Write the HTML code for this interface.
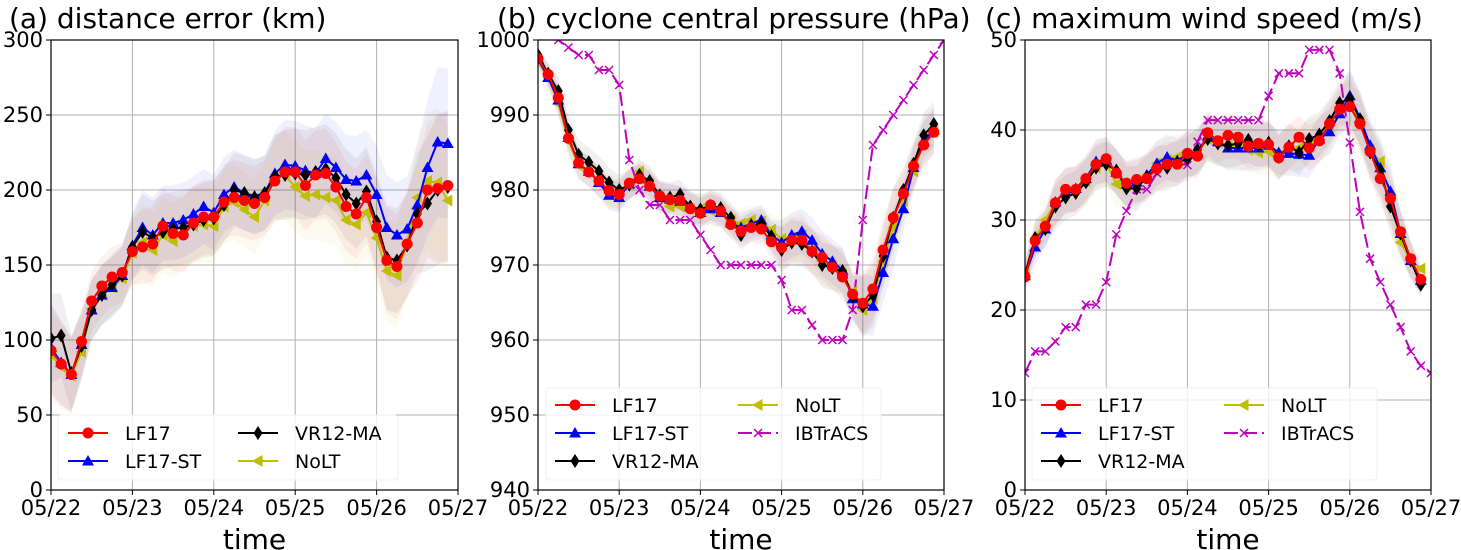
<!DOCTYPE html>
<html><head><meta charset="utf-8"><style>
html,body{margin:0;padding:0;background:#fff;}
svg{display:block;font-family:"DejaVu Sans","Liberation Sans",sans-serif;}
</style></head><body>
<svg id="fig" width="1461" height="550" viewBox="0 0 1461 550" xmlns="http://www.w3.org/2000/svg"></svg>
<script>
const dayLabels = ["05/22","05/23","05/24","05/25","05/26","05/27"];
// panel (a) distance error
const aLF17   = [93,84,77,99,126,136,142,145,159,162,164,176,171,170,178,182,182,192,195,193,191,195,206,212,212,203,210,211,202,189,184,195,175,153,149,164,178,200,201,203];
const aLF17ST = [95,85,77,97,120,130,135,143,163,175,170,178,178,180,184,189,185,197,202,198,196,198,211,217,216,213,211,221,215,207,206,210,197,175,170,174,190,215,232,231];
const aVR12   = [101,103,78,96,120,130,137,143,162,172,168,172,174,175,177,180,181,190,200,198,195,198,209,210,211,210,212,214,208,197,191,199,179,155,153,163,184,191,200,202];
const aNoLT   = [90,82,76,92,121,130,135,141,158,165,160,170,166,172,176,177,176,189,192,187,182,193,208,210,202,196,197,195,193,180,177,185,168,146,143,165,195,206,205,193];
const aSpread = [30,28,25,22,20,20,20,20,22,25,25,25,25,25,25,25,25,25,25,25,25,25,28,30,30,30,30,30,30,30,30,30,32,35,35,35,40,45,50,50];
// panel (b) central pressure
const bLF17   = [997.5,995.4,992.3,986.9,983.6,982.4,981.2,979.9,979.4,980.9,981.5,980.5,979.2,978.7,978.6,977.5,976.9,978,977.2,975.4,974.5,975,974.8,973.1,972.3,973.3,973.3,971.8,971,969.7,968.4,966.1,964.9,966.8,972,976.3,979.5,983.2,986,987.7];
const bLF17ST = [997.5,995,992,987,983.5,982.5,981,979.3,979,980.8,981.5,980.5,979,978.8,978.5,977.8,977,977.5,977,975.6,975,975.5,976,974,973,974,974.5,973.3,971.5,970.5,969.3,965.5,964.8,964.5,969,973.5,977.5,983,986.5,988];
const bVR12   = [998,995.5,993.2,988,984.7,983.7,982.5,981,980,980.7,982,981.2,979.3,979,979.4,977.8,977.4,977.9,977.6,976.3,974,975.2,975.5,973.8,972,973,972.8,971.8,970,969.6,969.2,965.8,964.5,966,971.2,976.3,980,983.5,987.3,988.8];
const bNoLT   = [997,995,991.5,986.5,983.3,982.5,981,979.5,979.3,980.8,982.5,980.8,979,977.8,977.8,977.5,977.5,977.3,977,976,975.5,976,975.8,974.7,973.5,973.5,974,972,970.5,969.8,968.7,966.4,964,965.5,970.5,975,978.5,982.5,986.2,987.8];
const bIBT    = [1002,1001,1000,999,998,998,996,996,994,984,980,978,978,976,976,976,974,972,970,970,970,970,970,970,968,964,964,962,960,960,960,964,976,986,988,990,992,994,996,998,1000];
const bSpread = [1,1.5,2,2,2,2,2,2,2,2,2,2,2,2,2,2,2,2,2,2,2,2,2,2,3,3,3,3,3,3,3,3,4,4,4,4,3,3,3,3];
// panel (c) max wind speed
const cLF17   = [23.7,27.7,29.3,31.9,33.4,33.4,34.6,36.2,36.8,35.2,34.1,34.5,34.6,35.7,36.2,36.2,37.4,37.1,39.7,38.8,39.4,39.2,38.2,38.5,38.4,36.9,38.1,39.2,38,38.8,40.7,42.3,42.6,40.7,37.6,34.6,32.4,28.7,25.7,23.4];
const cLF17ST = [23.8,27,29,32,33.2,33.5,34.6,36.5,36.7,35.3,34,34.2,35,36.3,37,36.6,37.3,37.5,39.3,38.7,38,38,38,38,38.3,37.5,37.4,37.3,37.2,39,39.8,41.8,43.8,41.3,38.3,35.8,33.2,28.5,25.5,23.3];
const cVR12   = [24,28,29,31.5,32.5,33,34.2,35.8,36.2,35.5,33.5,33.5,34.8,35.7,35.8,36.4,36.8,37.8,39,38.5,38.3,38.5,38.9,38.3,38.6,37,38.2,37.5,39,39.5,41,43,43.5,41.2,37.5,35.5,31.5,28.5,25.5,22.8];
const cNoLT   = [24,28,30,32,33.2,33.5,34.3,35.8,36.3,34,33.8,34,35,36.3,36.7,37,37.3,37.5,39,38.6,38.2,38.2,37.8,37.5,37.6,37.2,37.8,38,38.6,39,40,42.5,43,41,37.8,36.5,32.5,27.5,25.5,24.6];
const cIBT    = [13,15.4,15.4,16.5,18.1,18.1,20.6,20.6,23.1,28.4,31,33.4,33.4,35.2,36.3,36.3,36.1,38.7,41.1,41.1,41.1,41.1,41.1,41.1,43.8,46.3,46.3,46.3,48.9,48.9,48.9,46.3,38.6,30.9,25.7,23.1,20.6,18.1,15.4,13.8,13];
const cSpread = [1.5,2,2,2.5,2.5,2.5,2.5,2.5,2.5,2.5,2.5,2.5,2.5,2.5,2.5,2.5,2.5,2.5,2.5,2.5,2.5,2.5,2.5,2.5,2.5,2.5,2.5,2.5,2.5,2.5,2.5,2.5,3,3,3,3,3,2.5,2,1.5];
const aTicks = [0,50,100,150,200,250,300];
const bTicks = [940,950,960,970,980,990,1000];
const cTicks = [0,10,20,30,40,50];

const NS = "http://www.w3.org/2000/svg";
const svg = document.getElementById("fig");
function mk(tag, attrs, parent){ const e=document.createElementNS(NS,tag); for(const k in attrs) e.setAttribute(k,attrs[k]); (parent||svg).appendChild(e); return e; }
const COL = {red:"#ff0000", blue:"#0000ff", black:"#000000", yel:"#bfbf00", mag:"#bf00bf"};

function marker(g, type, x, y, col){
  let e;
  if(type==="o"){ e=mk("circle",{cx:x,cy:y,r:5.5,fill:col},g); }
  else if(type==="^"){ e=mk("polygon",{points:`${x},${y-6} ${x-6},${y+4.5} ${x+6},${y+4.5}`,fill:col},g); }
  else if(type==="<"){ e=mk("polygon",{points:`${x-6},${y} ${x+4.5},${y-6} ${x+4.5},${y+6}`,fill:col},g); }
  else if(type==="d"){ e=mk("polygon",{points:`${x},${y-7} ${x+4.5},${y} ${x},${y+7} ${x-4.5},${y}`,fill:col},g); }
  else if(type==="x"){ e=mk("path",{d:`M${x-4},${y-4}L${x+4},${y+4}M${x-4},${y+4}L${x+4},${y-4}`,stroke:col,"stroke-width":1.5,fill:"none"},g); }
  
  
  return e;
}

function panel(id, L, R, ymin, ymax, ticks, title, series, ibt, spread, legend){
  const T=40, B=490;
  const xs = i => L + (R-L)*i/40;
  const ys = v => B - (v-ymin)/(ymax-ymin)*(B-T);
  const g = mk("g",{});
  
  
  const clip = mk("clipPath",{id:"clip-"+id},g); mk("rect",{x:L,y:T,width:R-L,height:B-T},clip);
  const grid = mk("g",{},g);
  
  
  for(let d=1; d<5; d++){ const x=L+(R-L)*d/5; mk("line",{x1:x,x2:x,y1:T,y2:B,stroke:"#b0b0b0","stroke-width":1},grid); }
  ticks.forEach(t=>{ const y=ys(t); if(t>ymin&&t<ymax) mk("line",{x1:L,x2:R,y1:y,y2:y,stroke:"#b0b0b0","stroke-width":1},grid); });
  const plot = mk("g",{"clip-path":`url(#clip-${id})`},g);
  series.forEach(s=>{
    let d="M"; s.data.forEach((v,i)=>{ d+=`${xs(i)},${ys(v+spread[i])} L`; });
    for(let i=s.data.length-1;i>=0;i--){ d+=`${xs(i)},${ys(s.data[i]-spread[i])}`+(i?" L":""); }
    const p=mk("path",{d:d+"Z",fill:s.col,"fill-opacity":0.06,stroke:"none"},plot);
    
    
  });
  if(ibt){
    const pts=ibt.map((v,i)=>`${xs(i)},${ys(v)}`).join(" ");
    const pl=mk("polyline",{points:pts,fill:"none",stroke:COL.mag,"stroke-width":2,"stroke-dasharray":"14,5"},plot);
    
    
    ibt.forEach((v,i)=>marker(plot,"x",xs(i),ys(v),COL.mag));
  }
  series.forEach(s=>{
    const pts=s.data.map((v,i)=>`${xs(i)},${ys(v)}`).join(" ");
    const pl=mk("polyline",{points:pts,fill:"none",stroke:s.col,"stroke-width":2},plot);
    
    
    s.data.forEach((v,i)=>marker(plot,s.m,xs(i),ys(v),s.col));
  });
  const fr=mk("rect",{x:L,y:T,width:R-L,height:B-T,fill:"none",stroke:"#000","stroke-width":1.2},g);
  
  
  ticks.forEach(t=>{ const y=ys(t);
    mk("line",{x1:L-5,x2:L,y1:y,y2:y,stroke:"#000","stroke-width":1},g);
    const tx=mk("text",{x:L-8,y:y+7,"text-anchor":"end","font-size":21},g); tx.textContent=t;
    
    
  });
  dayLabels.forEach((lb,d)=>{ const x=L+(R-L)*d/5;
    mk("line",{x1:x,x2:x,y1:B,y2:B+5,stroke:"#000","stroke-width":1},g);
    const tx=mk("text",{x:x,y:B+25,"text-anchor":"middle","font-size":21},g); tx.textContent=lb;
    
    
  });
  const xl=mk("text",{x:(L+R)/2,y:B+59,"text-anchor":"middle","font-size":28},g); xl.textContent="time";
  
  
  const tt=mk("text",{x:title.x,y:28,"font-size":28},g); tt.textContent=title.t;
  
  
  const lg=mk("g",{},g);
  
  
  mk("rect",{x:legend.x,y:legend.y,width:legend.w,height:legend.h,fill:"#fff","fill-opacity":0.8,stroke:"#f0f0f0",rx:3},lg);
  legend.items.forEach(it=>{
    const e=mk("g",{},lg);
    
    
    const dash = it.m==="x" ? "14,5" : "none";
    mk("line",{x1:it.x,x2:it.x+40,y1:it.y,y2:it.y,stroke:it.col,"stroke-width":2,"stroke-dasharray":dash},e);
    marker(e,it.m,it.x+20,it.y,it.col);
    const tx=mk("text",{x:it.x+57,y:it.y+7,"font-size":19},e); tx.textContent=it.name;
  });
}
const sA=[{name:"NoLT",data:aNoLT,col:COL.yel,m:"<"},{name:"LF17-ST",data:aLF17ST,col:COL.blue,m:"^"},{name:"VR12-MA",data:aVR12,col:COL.black,m:"d"},{name:"LF17",data:aLF17,col:COL.red,m:"o"}];
const sB=[{name:"NoLT",data:bNoLT,col:COL.yel,m:"<"},{name:"LF17-ST",data:bLF17ST,col:COL.blue,m:"^"},{name:"VR12-MA",data:bVR12,col:COL.black,m:"d"},{name:"LF17",data:bLF17,col:COL.red,m:"o"}];
const sC=[{name:"NoLT",data:cNoLT,col:COL.yel,m:"<"},{name:"LF17-ST",data:cLF17ST,col:COL.blue,m:"^"},{name:"VR12-MA",data:cVR12,col:COL.black,m:"d"},{name:"LF17",data:cLF17,col:COL.red,m:"o"}];
panel("panel-a-distance-error",51,458,0,300,aTicks,{x:9,t:"(a) distance error (km)"},sA,null,aSpread,
 {x:58,y:415,w:340,h:65,items:[
  {name:"LF17",col:COL.red,m:"o",x:68,y:433},{name:"LF17-ST",col:COL.blue,m:"^",x:68,y:461},
  {name:"VR12-MA",col:COL.black,m:"d",x:238,y:433},{name:"NoLT",col:COL.yel,m:"<",x:238,y:461}]});
panel("panel-b-central-pressure",538,944,940,1000,bTicks,{x:497,t:"(b) cyclone central pressure (hPa)"},sB,bIBT,bSpread,
 {x:546,y:388,w:335,h:92,items:[
  {name:"LF17",col:COL.red,m:"o",x:555,y:405},{name:"LF17-ST",col:COL.blue,m:"^",x:555,y:433},{name:"VR12-MA",col:COL.black,m:"d",x:555,y:461},
  {name:"NoLT",col:COL.yel,m:"<",x:738,y:405},{name:"IBTrACS",col:COL.mag,m:"x",x:738,y:433}]});
panel("panel-c-max-wind",1025,1431,0,50,cTicks,{x:985,t:"(c) maximum wind speed (m/s)"},sC,cIBT,cSpread,
 {x:1032,y:388,w:345,h:92,items:[
  {name:"LF17",col:COL.red,m:"o",x:1041,y:405},{name:"LF17-ST",col:COL.blue,m:"^",x:1041,y:433},{name:"VR12-MA",col:COL.black,m:"d",x:1041,y:461},
  {name:"NoLT",col:COL.yel,m:"<",x:1224,y:405},{name:"IBTrACS",col:COL.mag,m:"x",x:1224,y:433}]});
</script>
</body></html>
